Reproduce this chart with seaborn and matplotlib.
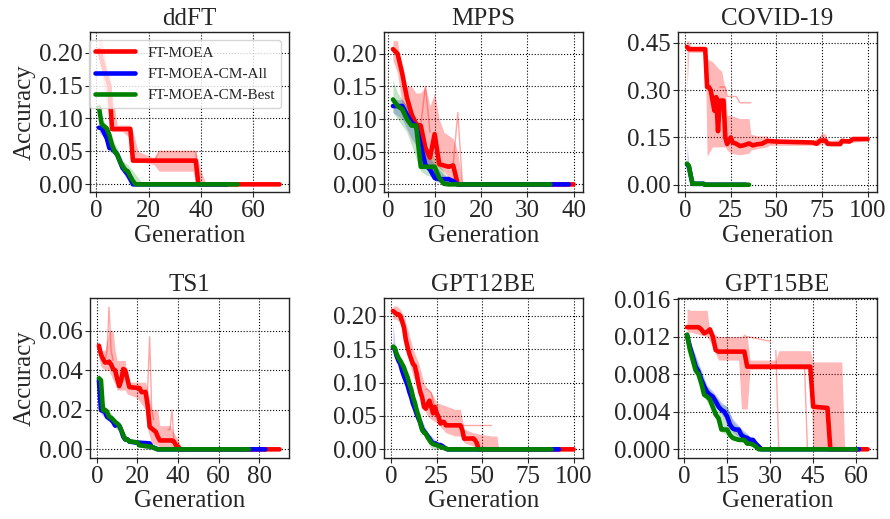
import numpy as np
import pandas as pd
import matplotlib
matplotlib.use("Agg")
import matplotlib.pyplot as plt
from matplotlib.ticker import MultipleLocator, FormatStrFormatter
import seaborn as sns

# ---------------- data ----------------
titles = ["ddFT", "MPPS", "COVID-19", "TS1", "GPT12BE", "GPT15BE"]
methods = ["FT-MOEA", "FT-MOEA-CM-All", "FT-MOEA-CM-Best"]

# ddFT
ddft_red_x = [1, 2, 3, 4, 5, 6, 13, 14, 38, 39, 70]
ddft_red_y = [0.204, 0.19, 0.175, 0.162, 0.15, 0.084, 0.084, 0.036, 0.036, 0.0, 0.0]
ddft_blue_x = [1, 2, 3, 4, 5, 6, 7, 8, 9, 10, 11, 12, 13, 14, 50]
ddft_blue_y = [0.086, 0.086, 0.078, 0.07, 0.055, 0.055, 0.05, 0.045, 0.035, 0.025, 0.02, 0.015, 0.008, 0.0, 0.0]
ddft_green_x = [1, 2, 3, 4, 5, 6, 7, 8, 9, 10, 11, 12, 13, 14, 15, 54]
ddft_green_y = [0.117, 0.092, 0.088, 0.085, 0.075, 0.06, 0.05, 0.045, 0.035, 0.028, 0.022, 0.02, 0.012, 0.005, 0.0, 0.0]
ddft_red_band_x = [1, 2, 3, 4, 5, 6, 8, 10, 13, 14, 16, 22, 24, 30, 37, 38, 40, 42]
ddft_red_hi = [0.22, 0.22, 0.2, 0.18, 0.16, 0.14, 0.09, 0.09, 0.09, 0.08, 0.05, 0.04, 0.05, 0.05, 0.05, 0.05, 0.02, 0.0]
ddft_red_lo = [0.19, 0.17, 0.14, 0.12, 0.1, 0.08, 0.08, 0.08, 0.07, 0.035, 0.035, 0.03, 0.02, 0.02, 0.02, 0.0, 0.0, 0.0]
ddft_blue_band_x = [1, 3, 5, 7, 9, 11, 13, 15]
ddft_blue_hi = [0.09, 0.085, 0.065, 0.058, 0.045, 0.03, 0.015, 0.0]
ddft_blue_lo = [0.08, 0.07, 0.05, 0.045, 0.028, 0.012, 0.0, 0.0]
ddft_green_band_x = [1, 2, 4, 6, 8, 10, 12, 14, 16, 18]
ddft_green_hi = [0.13, 0.1, 0.09, 0.07, 0.055, 0.035, 0.03, 0.02, 0.01, 0.0]
ddft_green_lo = [0.1, 0.085, 0.075, 0.05, 0.04, 0.02, 0.01, 0.0, 0.0, 0.0]
ddft_thin = [([22, 24, 37, 38, 39], [0.035, 0.05, 0.05, 0.05, 0.0])]

# MPPS
mpps_red_x = [1, 2, 3, 4, 5, 6, 7, 8, 9, 10, 11, 12, 13, 14, 15, 40]
mpps_red_y = [0.207, 0.2, 0.17, 0.133, 0.108, 0.092, 0.09, 0.056, 0.041, 0.077, 0.031, 0.029, 0.027, 0.029, 0.0, 0.0]
mpps_blue_x = [1, 2, 3, 4, 5, 6, 7, 8, 9, 10, 11, 12, 13, 14, 15, 39]
mpps_blue_y = [0.12, 0.12, 0.12, 0.107, 0.095, 0.09, 0.06, 0.03, 0.023, 0.01, 0.008, 0.008, 0.008, 0.005, 0.0, 0.0]
mpps_green_x = [1, 2, 3, 4, 5, 6, 7, 8, 9, 10, 11, 12, 13, 35]
mpps_green_y = [0.13, 0.12, 0.115, 0.1, 0.09, 0.09, 0.027, 0.027, 0.027, 0.027, 0.01, 0.001, 0.0, 0.0]
mpps_red_band_x = [1, 2, 3, 4, 5, 6, 7, 8, 9, 10, 11, 12, 14, 15, 16]
mpps_red_hi = [0.22, 0.22, 0.16, 0.15, 0.15, 0.14, 0.14, 0.15, 0.12, 0.14, 0.1, 0.08, 0.07, 0.05, 0.0]
mpps_red_lo = [0.19, 0.17, 0.12, 0.1, 0.09, 0.08, 0.06, 0.03, 0.03, 0.03, 0.025, 0.02, 0.0, 0.0, 0.0]
mpps_blue_band_x = [1, 3, 5, 6, 7, 8, 10, 12, 14, 15]
mpps_blue_hi = [0.13, 0.13, 0.11, 0.1, 0.08, 0.05, 0.03, 0.015, 0.01, 0.0]
mpps_blue_lo = [0.11, 0.1, 0.07, 0.06, 0.04, 0.025, 0.005, 0.0, 0.0, 0.0]
mpps_green_band_x = [1, 2, 4, 6, 7, 8, 10, 12, 13]
mpps_green_hi = [0.16, 0.14, 0.12, 0.1, 0.09, 0.06, 0.04, 0.02, 0.0]
mpps_green_lo = [0.11, 0.1, 0.08, 0.04, 0.02, 0.015, 0.01, 0.0, 0.0]
mpps_thin = [([13, 14, 15, 16], [0.03, 0.03, 0.11, 0.0]),
             ([7, 8, 9], [0.09, 0.15, 0.08])]

# COVID-19
covid_red_x = [1, 2, 11, 12, 13, 14, 15, 16, 17, 18, 19, 21, 22, 23, 24, 25, 26, 28, 30, 32, 35, 37, 40, 42,
               45, 50, 70, 72, 74, 77, 78, 80, 85, 86, 90, 92, 100]
covid_red_y = [0.437, 0.43, 0.43, 0.31, 0.31, 0.3, 0.267, 0.235, 0.278, 0.17, 0.267, 0.267, 0.15, 0.129, 0.14,
               0.15, 0.134, 0.13, 0.123, 0.125, 0.131, 0.125, 0.129, 0.13, 0.139, 0.137, 0.134, 0.13, 0.14, 0.14,
               0.13, 0.129, 0.129, 0.139, 0.137, 0.145, 0.145]
covid_blue_x = [1, 2, 3, 4, 10, 11, 33]
covid_blue_y = [0.065, 0.058, 0.03, 0.003, 0.003, 0.0, 0.0]
covid_green_x = [1, 2, 3, 4, 10, 11, 35]
covid_green_y = [0.067, 0.06, 0.03, 0.003, 0.003, 0.0, 0.0]
covid_red_band_x = [1, 2, 3, 11, 12, 15, 18, 20, 22, 23, 25, 30, 35, 36, 40, 45, 46, 70, 73, 75, 77, 78, 100]
covid_red_hi = [0.46, 0.455, 0.44, 0.44, 0.4, 0.39, 0.37, 0.36, 0.3, 0.22, 0.22, 0.21, 0.21, 0.16, 0.155, 0.155,
                0.145, 0.14, 0.15, 0.165, 0.16, 0.14, 0.15]
covid_red_lo = [0.3, 0.42, 0.42, 0.42, 0.09, 0.12, 0.12, 0.12, 0.12, 0.11, 0.1, 0.095, 0.1, 0.11, 0.115, 0.12,
                0.125, 0.125, 0.125, 0.13, 0.13, 0.125, 0.14]
covid_blue_band_x = [1, 2, 4]
covid_blue_hi = [0.13, 0.07, 0.005]
covid_blue_lo = [0.05, 0.04, 0.0]
covid_green_band_x = [1, 2, 4]
covid_green_hi = [0.07, 0.065, 0.004]
covid_green_lo = [0.06, 0.05, 0.0]
covid_thin = [([19, 22, 23, 28, 30, 36], [0.31, 0.31, 0.28, 0.28, 0.26, 0.26])]

# TS1
ts1_red_x = [1, 2, 3, 4, 5, 6, 7, 8, 9, 10, 11, 12, 13, 14, 15, 16, 21, 22, 24, 25, 26, 28, 29, 30, 31, 37,
             38, 39, 40, 41, 90]
ts1_red_y = [0.0525, 0.048, 0.0458, 0.044, 0.044, 0.0444, 0.043, 0.0407, 0.04, 0.0357, 0.032, 0.035, 0.0407,
             0.04, 0.0357, 0.0315, 0.031, 0.029, 0.029, 0.0223, 0.0114, 0.0097, 0.0089, 0.0064, 0.0045, 0.0045,
             0.0039, 0.002, 0.0013, 0.0, 0.0]
ts1_blue_x = [1, 2, 4, 5, 7, 8, 9, 10, 11, 12, 13, 14, 15, 16, 19, 26, 27, 29, 30, 83]
ts1_blue_y = [0.035, 0.0198, 0.019, 0.0164, 0.015, 0.0139, 0.012, 0.013, 0.012, 0.0097, 0.0064, 0.005, 0.005,
              0.0039, 0.0035, 0.003, 0.0013, 0.0005, 0.0, 0.0]
ts1_green_x = [1, 2, 3, 4, 5, 6, 7, 8, 9, 10, 11, 12, 13, 14, 15, 16, 17, 20, 21, 27, 28, 29, 30, 75]
ts1_green_y = [0.036, 0.035, 0.0198, 0.02, 0.019, 0.0164, 0.016, 0.015, 0.0139, 0.013, 0.012, 0.0097, 0.0072,
               0.005, 0.005, 0.004, 0.0039, 0.0035, 0.002, 0.0013, 0.0008, 0.0003, 0.0, 0.0]
ts1_red_band_x = [1, 2, 4, 6, 8, 9, 10, 12, 14, 15, 20, 24, 25, 27, 30, 31, 36, 38, 40, 42]
ts1_red_hi = [0.053, 0.05, 0.05, 0.06, 0.06, 0.05, 0.045, 0.045, 0.045, 0.034, 0.034, 0.034, 0.03, 0.02, 0.02,
              0.012, 0.012, 0.008, 0.005, 0.0]
ts1_red_lo = [0.046, 0.042, 0.04, 0.04, 0.035, 0.033, 0.03, 0.03, 0.03, 0.028, 0.026, 0.02, 0.01, 0.003, 0.002,
              0.0, 0.0, 0.0, 0.0, 0.0]
ts1_blue_band_x = [1, 2, 5, 8, 12, 15, 20, 26, 30]
ts1_blue_hi = [0.041, 0.022, 0.018, 0.016, 0.011, 0.006, 0.004, 0.003, 0.0]
ts1_blue_lo = [0.03, 0.018, 0.015, 0.012, 0.008, 0.004, 0.002, 0.0, 0.0]
ts1_green_band_x = [1, 2, 3, 5, 8, 12, 15, 20, 25, 30]
ts1_green_hi = [0.038, 0.036, 0.022, 0.021, 0.017, 0.011, 0.006, 0.004, 0.002, 0.0]
ts1_green_lo = [0.034, 0.03, 0.018, 0.017, 0.013, 0.008, 0.004, 0.002, 0.0, 0.0]
ts1_thin = [([4, 5, 6, 7, 8], [0.045, 0.05, 0.072, 0.05, 0.045]),
            ([24, 25, 26, 27, 28], [0.03, 0.03, 0.057, 0.02, 0.015]),
            ([35, 36, 37, 38], [0.01, 0.01, 0.02, 0.004])]

# GPT12BE
gpt12_red_x = [1, 2, 3, 4, 5, 6, 7, 8, 9, 10, 11, 12, 13, 14, 15, 16, 17, 18, 19, 20, 21, 22, 23, 24, 25, 26,
               27, 28, 29, 30, 38, 39, 40, 45, 46, 47, 48, 100]
gpt12_red_y = [0.2075, 0.205, 0.203, 0.2025, 0.2, 0.192, 0.183, 0.165, 0.153, 0.143, 0.135, 0.128, 0.125,
               0.113, 0.098, 0.086, 0.078, 0.0635, 0.061, 0.068, 0.073, 0.0635, 0.054, 0.0635, 0.054, 0.0486,
               0.0387, 0.041, 0.041, 0.036, 0.036, 0.029, 0.016, 0.0164, 0.014, 0.009, 0.0, 0.0]
gpt12_blue_x = list(range(1, 32)) + [92]
gpt12_blue_y = [0.153, 0.15, 0.14, 0.133, 0.128, 0.118, 0.11, 0.103, 0.096, 0.086, 0.078, 0.068, 0.061, 0.053,
                0.046, 0.04, 0.031, 0.027, 0.024, 0.02, 0.0164, 0.012, 0.009, 0.009, 0.008, 0.006, 0.0065,
                0.005, 0.003, 0.001, 0.0, 0.0]
gpt12_green_x = list(range(1, 32)) + [88]
gpt12_green_y = [0.154, 0.152, 0.143, 0.137, 0.133, 0.128, 0.123, 0.115, 0.108, 0.098, 0.09, 0.078, 0.07,
                 0.0585, 0.05, 0.0387, 0.0288, 0.025, 0.0238, 0.018, 0.0139, 0.01, 0.008, 0.007, 0.0065, 0.005,
                 0.004, 0.003, 0.002, 0.0015, 0.0, 0.0]
gpt12_red_band_x = [1, 3, 5, 7, 10, 12, 15, 18, 20, 22, 25, 30, 35, 38, 40, 45, 50, 55, 58, 59]
gpt12_red_hi = [0.215, 0.215, 0.21, 0.2, 0.17, 0.15, 0.13, 0.1, 0.09, 0.085, 0.07, 0.065, 0.06, 0.06, 0.03,
                0.025, 0.022, 0.02, 0.02, 0.0]
gpt12_red_lo = [0.195, 0.195, 0.19, 0.17, 0.13, 0.11, 0.09, 0.06, 0.05, 0.045, 0.04, 0.025, 0.02, 0.02, 0.01,
                0.005, 0.0, 0.0, 0.0, 0.0]
gpt12_blue_band_x = [1, 2, 5, 10, 15, 20, 25, 30, 32]
gpt12_blue_hi = [0.19, 0.16, 0.135, 0.095, 0.055, 0.025, 0.012, 0.003, 0.0]
gpt12_blue_lo = [0.15, 0.145, 0.12, 0.08, 0.04, 0.015, 0.004, 0.0, 0.0]
gpt12_green_band_x = [1, 5, 10, 15, 18, 20, 22, 25, 30, 32]
gpt12_green_hi = [0.16, 0.14, 0.105, 0.06, 0.035, 0.025, 0.015, 0.01, 0.003, 0.0]
gpt12_green_lo = [0.15, 0.125, 0.09, 0.04, 0.02, 0.01, 0.002, 0.0, 0.0, 0.0]
gpt12_thin = [([30, 55], [0.036, 0.036]), ([19, 20, 22, 24], [0.09, 0.09, 0.085, 0.06])]

# GPT15BE
gpt15_red_x = [1, 5, 6, 7, 8, 9, 10, 11, 12, 21, 22, 44, 45, 50, 51, 64]
gpt15_red_y = [0.013, 0.013, 0.01277, 0.01235, 0.0125, 0.01277, 0.012, 0.01057, 0.0104, 0.0104, 0.0088, 0.0088,
               0.00454, 0.0044, 0.0, 0.0]
gpt15_blue_x = list(range(1, 28)) + [61]
gpt15_blue_y = [0.01217, 0.0109, 0.0099, 0.0088, 0.0083, 0.0074, 0.0067, 0.0061, 0.0058, 0.0056, 0.0051,
                0.00454, 0.0042, 0.004, 0.0035, 0.0026, 0.0022, 0.0021, 0.0021, 0.0015, 0.0013, 0.0012, 0.001,
                0.001, 0.0006, 0.0003, 0.0, 0.0]
gpt15_green_x = list(range(1, 27)) + [60]
gpt15_green_y = [0.0122, 0.0106, 0.0095, 0.0084, 0.008, 0.007, 0.0058, 0.0056, 0.0053, 0.0045, 0.0037, 0.0033,
                 0.0021, 0.0021, 0.0021, 0.0015, 0.0012, 0.0011, 0.001, 0.001, 0.001, 0.0006, 0.0006, 0.0005,
                 0.0003, 0.0, 0.0]
gpt15_red_band_x = [1, 2, 8, 9, 12, 19, 20, 21, 22, 23, 32, 33, 44, 45, 55, 56]
gpt15_red_hi = [0.015, 0.0148, 0.0148, 0.0125, 0.012, 0.012, 0.012, 0.0123, 0.012, 0.0095, 0.0095, 0.0105,
                0.0105, 0.0093, 0.0093, 0.0]
gpt15_red_lo = [0.012, 0.0125, 0.012, 0.0115, 0.0095, 0.0095, 0.0043, 0.0043, 0.0043, 0.0085, 0.0085, 0.0085,
                0.0085, 0.0, 0.0, 0.0]
gpt15_blue_band_x = [1, 3, 5, 8, 10, 13, 15, 17, 20, 23, 26, 28]
gpt15_blue_hi = [0.0125, 0.0108, 0.0092, 0.0068, 0.0062, 0.005, 0.0045, 0.0032, 0.0022, 0.0014, 0.0006, 0.0]
gpt15_blue_lo = [0.0118, 0.0092, 0.0076, 0.0055, 0.005, 0.0038, 0.0028, 0.0018, 0.0011, 0.0006, 0.0, 0.0]
gpt15_green_band_x = [1, 3, 5, 8, 10, 13, 15, 17, 20, 23, 26, 28]
gpt15_green_hi = [0.0124, 0.0106, 0.009, 0.0066, 0.006, 0.0048, 0.0046, 0.003, 0.002, 0.0013, 0.0006, 0.0]
gpt15_green_lo = [0.0118, 0.0088, 0.0072, 0.005, 0.004, 0.0018, 0.0016, 0.001, 0.0008, 0.0004, 0.0, 0.0]
gpt15_thin = [([22, 30], [0.012, 0.0115]), ([32, 33, 34], [0.0105, 0.0, 0.0]),
              ([42, 43, 44], [0.0088, 0.0, 0.0])]

# axis settings per panel
y_limits = [(-0.0118, 0.231), (-0.0118, 0.233), (-0.0234, 0.484),
            (-0.0044, 0.0766), (-0.013, 0.2268), (-0.00093, 0.0161)]
y_steps = [0.05, 0.05, 0.15, 0.02, 0.05, 0.004]
y_formats = ["%.2f", "%.2f", "%.2f", "%.2f", "%.2f", "%.3f"]
x_steps = [20, 10, 25, 20, 25, 15]

panels = [
    (ddft_red_x, ddft_red_y, ddft_blue_x, ddft_blue_y, ddft_green_x, ddft_green_y,
     (ddft_red_band_x, ddft_red_lo, ddft_red_hi), (ddft_blue_band_x, ddft_blue_lo, ddft_blue_hi),
     (ddft_green_band_x, ddft_green_lo, ddft_green_hi), ddft_thin),
    (mpps_red_x, mpps_red_y, mpps_blue_x, mpps_blue_y, mpps_green_x, mpps_green_y,
     (mpps_red_band_x, mpps_red_lo, mpps_red_hi), (mpps_blue_band_x, mpps_blue_lo, mpps_blue_hi),
     (mpps_green_band_x, mpps_green_lo, mpps_green_hi), mpps_thin),
    (covid_red_x, covid_red_y, covid_blue_x, covid_blue_y, covid_green_x, covid_green_y,
     (covid_red_band_x, covid_red_lo, covid_red_hi), (covid_blue_band_x, covid_blue_lo, covid_blue_hi),
     (covid_green_band_x, covid_green_lo, covid_green_hi), covid_thin),
    (ts1_red_x, ts1_red_y, ts1_blue_x, ts1_blue_y, ts1_green_x, ts1_green_y,
     (ts1_red_band_x, ts1_red_lo, ts1_red_hi), (ts1_blue_band_x, ts1_blue_lo, ts1_blue_hi),
     (ts1_green_band_x, ts1_green_lo, ts1_green_hi), ts1_thin),
    (gpt12_red_x, gpt12_red_y, gpt12_blue_x, gpt12_blue_y, gpt12_green_x, gpt12_green_y,
     (gpt12_red_band_x, gpt12_red_lo, gpt12_red_hi), (gpt12_blue_band_x, gpt12_blue_lo, gpt12_blue_hi),
     (gpt12_green_band_x, gpt12_green_lo, gpt12_green_hi), gpt12_thin),
    (gpt15_red_x, gpt15_red_y, gpt15_blue_x, gpt15_blue_y, gpt15_green_x, gpt15_green_y,
     (gpt15_red_band_x, gpt15_red_lo, gpt15_red_hi), (gpt15_blue_band_x, gpt15_blue_lo, gpt15_blue_hi),
     (gpt15_green_band_x, gpt15_green_lo, gpt15_green_hi), gpt15_thin),
]

# ---------------- style ----------------
sns.set_theme(style="ticks", rc={
    "axes.grid": True,
    "grid.linestyle": ":",
    "grid.color": "black",
    "grid.linewidth": 0.8,
    "axes.edgecolor": "#222222",
    "axes.linewidth": 1.0,
    "xtick.direction": "out",
    "ytick.direction": "out",
})
plt.rcParams["font.family"] = ["Liberation Serif", "DejaVu Serif"]
plt.rcParams["mathtext.fontset"] = "stix"

colors = ["#ff0000", "#0000ff", "#008000"]
FS = 18

fig, axes = plt.subplots(2, 3, figsize=(8.9, 5.19), dpi=100)
fig.subplots_adjust(left=0.101, right=0.985, top=0.938, bottom=0.1175, wspace=0.48, hspace=0.6625)

for i, (ax, panel) in enumerate(zip(axes.flat, panels)):
    rx, ry, bx, by, gx, gy, rband, bband, gband, thin = panel
    # shaded spread of runs
    for (bx_, blo, bhi), col, a in [(rband, colors[0], 0.28), (bband, colors[1], 0.22), (gband, colors[2], 0.22)]:
        ax.fill_between(bx_, blo, bhi, color=col, alpha=a, lw=0)
    # thin individual runs
    for tx, ty in thin:
        sns.lineplot(x=tx, y=ty, ax=ax, color=colors[0], alpha=0.35, lw=1.0,
                     estimator=None, sort=False, legend=False)
    # median lines
    for (xs, ys), col, name in zip([(rx, ry), (bx, by), (gx, gy)], colors, methods):
        sns.lineplot(x=xs, y=ys, ax=ax, color=col, lw=3.3, estimator=None, sort=False,
                     label=name if i == 0 else None, legend=False)

    ax.set_title(titles[i], fontsize=FS, pad=5)
    ax.set_xlabel("Generation", fontsize=FS, labelpad=2)
    if i % 3 == 0:
        ax.set_ylabel("Accuracy", fontsize=FS, labelpad=2)
    else:
        ax.set_ylabel("")
    ax.set_ylim(*y_limits[i])
    ax.yaxis.set_major_locator(MultipleLocator(y_steps[i]))
    ax.yaxis.set_major_formatter(FormatStrFormatter(y_formats[i]))
    ax.xaxis.set_major_locator(MultipleLocator(x_steps[i]))
    ax.tick_params(labelsize=FS, length=3.5, width=0.8, pad=2)
    ax.grid(True, linestyle=":", color="black", linewidth=0.8)
    for s in ax.spines.values():
        s.set_visible(True)

axes[0, 0].legend(loc="upper right", fontsize=11, handlelength=2.6, framealpha=0.8,
                  borderpad=0.4, labelspacing=0.5, handletextpad=0.8)

fig.savefig("out.png", dpi=100)
